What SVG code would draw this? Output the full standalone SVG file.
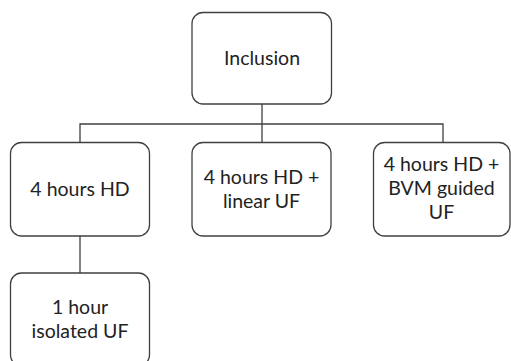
<svg xmlns="http://www.w3.org/2000/svg" width="511" height="361" viewBox="0 0 511 361">
<style>
.box{fill:#fff;stroke:#404040;stroke-width:1.3}
.lbl{font-family:Lato,"Open Sans",sans-serif;font-size:19.5px;fill:#222;text-anchor:middle}
.con{fill:none;stroke:#404040;stroke-width:1.3}
</style>
<rect width="511" height="361" fill="#fff"/>
<g id="connectors">
<path class="con" d="M262 104V124M80 142.5V124H443V142.5M262 124V142.5"/>
<path class="con" d="M80 236V273"/>
</g>
<g id="inclusion">
<rect class="box" x="192" y="12.5" width="139.5" height="91.5" rx="11"/>
<text class="lbl" x="262" y="65">Inclusion</text>
</g>
<g id="hd4">
<rect class="box" x="10.5" y="142.5" width="139" height="93.5" rx="11"/>
<text class="lbl" x="80" y="196">4 hours HD</text>
</g>
<g id="hd4linear">
<rect class="box" x="192" y="142.5" width="139" height="93.5" rx="11"/>
<text class="lbl" x="261.5" y="184">4 hours HD +</text>
<text class="lbl" x="261.5" y="208">linear UF</text>
</g>
<g id="hd4bvm">
<rect class="box" x="373.5" y="142.5" width="136.5" height="93.5" rx="11"/>
<text class="lbl" x="441.5" y="171">4 hours HD +</text>
<text class="lbl" x="441.5" y="195">BVM guided</text>
<text class="lbl" x="441.5" y="219">UF</text>
</g>
<g id="uf1">
<rect class="box" x="10.5" y="273" width="139" height="93" rx="11"/>
<text class="lbl" x="80" y="313.5">1 hour</text>
<text class="lbl" x="80" y="337.5">isolated UF</text>
</g>
</svg>
